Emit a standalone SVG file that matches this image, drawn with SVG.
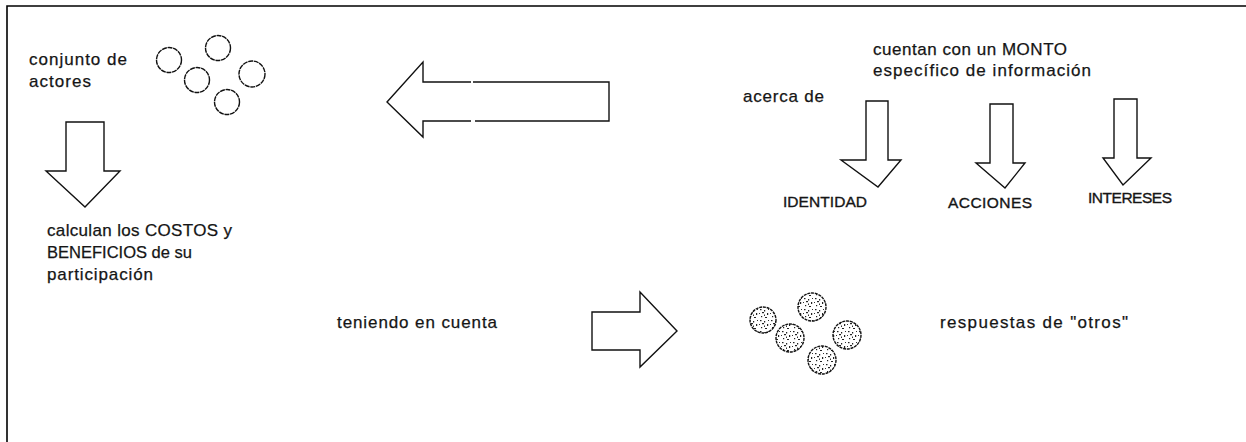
<svg xmlns="http://www.w3.org/2000/svg" width="1246" height="442" viewBox="0 0 1246 442">
  <style>
    .t { font-family: "Liberation Sans", Arial, sans-serif; font-size: 17px; fill: #151515; stroke: #151515; stroke-width: 0.25; }
    .cap { font-family: "Liberation Sans", Arial, sans-serif; font-size: 15.5px; fill: #151515; stroke: #151515; stroke-width: 0.35; }
    .arrow { fill: #ffffff; stroke: #111111; stroke-width: 1.4; stroke-linejoin: miter; }
    .ring { fill: #ffffff; stroke: #111111; stroke-width: 1.4; stroke-dasharray: 5 0.7; }
    .speck { fill: url(#speckle); stroke: #111111; stroke-width: 1.4; stroke-dasharray: 3 0.8; }
    .frame { stroke: #000000; stroke-width: 1.6; fill: none; }
  </style>
  <defs>
    <pattern id="speckle" width="11" height="11" patternUnits="userSpaceOnUse">
      <rect width="11" height="11" fill="#ffffff"/>
      <rect x="1" y="1" width="1.5" height="1.2" fill="#222"/>
      <rect x="5" y="2" width="1.2" height="1.5" fill="#222"/>
      <rect x="3" y="4" width="2" height="1.2" fill="#222"/>
      <rect x="8" y="5" width="1.2" height="2" fill="#222"/>
      <rect x="2" y="8" width="1.2" height="1.2" fill="#222"/>
      <rect x="6" y="9" width="2" height="1" fill="#222"/>
      <rect x="5" y="6.5" width="1" height="1.5" fill="#333"/>
      <rect x="9" y="1" width="1" height="1" fill="#333"/>
      <rect x="0" y="5" width="1" height="1" fill="#333"/>
    </pattern>
  </defs>

  <rect width="1246" height="442" fill="#ffffff"/>
  <path class="frame" d="M7,442 V6 H1246"/>

  <g id="actores">
    <text class="t" x="29" y="65" textLength="98" lengthAdjust="spacing">conjunto de</text>
    <text class="t" x="29" y="87" textLength="62" lengthAdjust="spacing">actores</text>
    <circle class="ring" cx="169" cy="60" r="12.5"/>
    <circle class="ring" cx="218" cy="48" r="12.5"/>
    <circle class="ring" cx="197" cy="80" r="12.5"/>
    <circle class="ring" cx="252" cy="74" r="13"/>
    <circle class="ring" cx="227" cy="102" r="12.5"/>
  </g>

  <g id="calculan">
    <text class="t" x="47" y="236" textLength="185" lengthAdjust="spacing">calculan los COSTOS y</text>
    <text class="t" x="47" y="258" textLength="145" lengthAdjust="spacingAndGlyphs" style="font-size:16.5px">BENEFICIOS de su</text>
    <text class="t" x="47" y="280" textLength="106" lengthAdjust="spacing">participación</text>
  </g>

  <g id="informacion">
    <text class="t" x="873" y="55" textLength="194" lengthAdjust="spacing">cuentan con un MONTO</text>
    <text class="t" x="873" y="76" textLength="218" lengthAdjust="spacing">específico de información</text>
  </g>

  <g id="acerca">
    <text class="t" x="743" y="102" textLength="81" lengthAdjust="spacing">acerca de</text>
  </g>

  <g id="identidad">
    <text class="cap" x="783" y="207" textLength="84" lengthAdjust="spacing">IDENTIDAD</text>
  </g>
  <g id="acciones">
    <text class="cap" x="948" y="208" textLength="84" lengthAdjust="spacing">ACCIONES</text>
  </g>
  <g id="intereses">
    <text class="cap" x="1088" y="203" textLength="84" lengthAdjust="spacing">INTERESES</text>
  </g>

  <g id="teniendo">
    <text class="t" x="337" y="328" textLength="160" lengthAdjust="spacing">teniendo en cuenta</text>
  </g>

  <g id="otros">
    <circle class="speck" cx="763" cy="320" r="13"/>
    <circle class="speck" cx="812" cy="307" r="14"/>
    <circle class="speck" cx="790" cy="338" r="14"/>
    <circle class="speck" cx="847" cy="335" r="14"/>
    <circle class="speck" cx="822" cy="360" r="14"/>
    <text class="t" x="940" y="328" textLength="188" lengthAdjust="spacing">respuestas de "otros"</text>
  </g>

  <g id="connectors">
    <polygon class="arrow" points="66,122 104,122 104,171 120,171 85,207 46,171 66,171"/>
    <path class="arrow" d="M473,82 H609 V121 H475 M471,121 H423 V137 L387,102 L423,62 V82 H471" fill="none"/>
    <polygon class="arrow" points="866,101 888,101 888,160 901,160 878,187 841,160 866,160"/>
    <polygon class="arrow" points="990,104 1013,104 1013,163 1025,163 1005,188 976,163 990,163"/>
    <polygon class="arrow" points="1114,99 1137,99 1137,158 1151,158 1123,185 1103,158 1114,158"/>
    <polygon class="arrow" points="592,312 640,312 640,292 677,331 640,367 640,350 592,350"/>
  </g>
</svg>
